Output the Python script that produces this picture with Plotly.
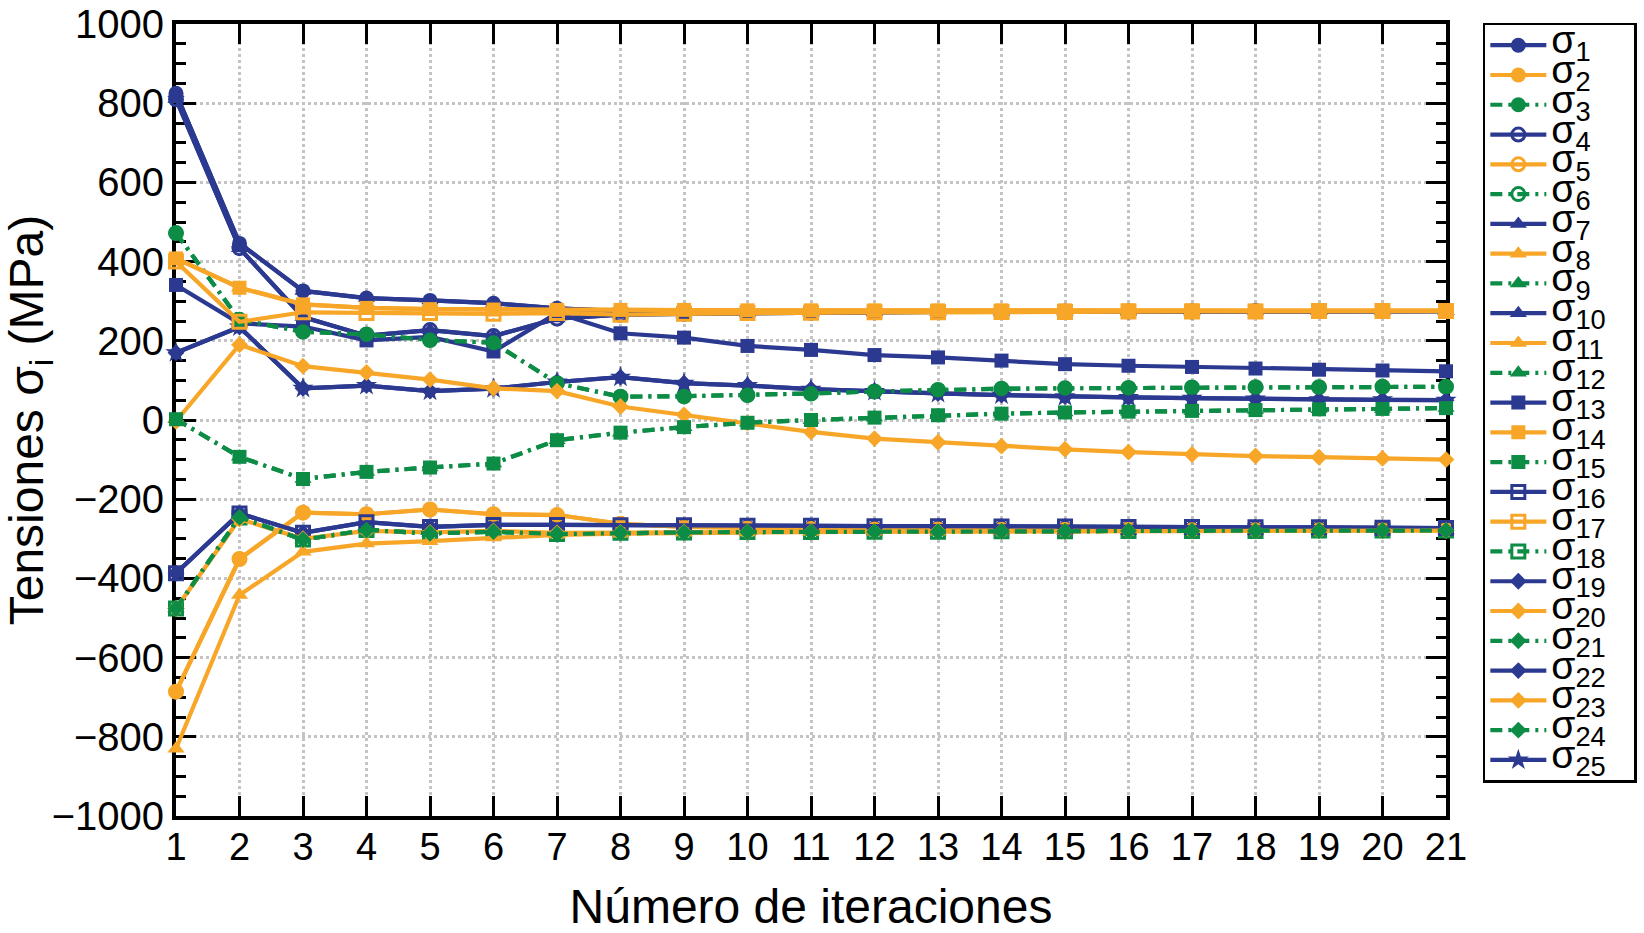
import plotly.graph_objects as go

iterations = list(range(1, 22))

# sigma values (MPa) per iteration
s1 = [825, 446, 326, 308, 302, 295, 282, 275, 273, 272, 272, 273, 273, 274, 274, 274, 275, 275, 275, 275, 275]
s2 = [-686, -351, -234, -238, -226, -238, -240, -262, -270, -273, -274, -275, -275, -276, -276, -276, -277, -277, -277, -277, -277]
s3 = [472, 253, 223, 216, 202, 195, 93, 59, 60, 63, 67, 72, 76, 79, 80, 81, 82, 83, 83, 84, 84]
s4 = [810, 434, 260, 213, 227, 212, 256, 266, 268, 270, 271, 272, 273, 273, 274, 274, 274, 275, 275, 275, 275]
s5 = [-686, -351, -234, -238, -226, -238, -240, -262, -270, -273, -274, -275, -275, -276, -276, -276, -277, -277, -277, -277, -277]
s6 = [472, 253, 223, 216, 202, 195, 93, 59, 60, 63, 67, 72, 76, 79, 80, 81, 82, 83, 83, 84, 84]
s7 = [810, 434, 260, 213, 227, 212, 256, 266, 268, 270, 271, 272, 273, 273, 274, 274, 274, 275, 275, 275, 275]
s8 = [-830, -442, -333, -312, -306, -297, -290, -287, -285, -284, -283, -282, -282, -281, -281, -280, -280, -280, -279, -279, -279]
s9 = [-476, -246, -302, -278, -286, -282, -288, -285, -284, -283, -283, -282, -282, -281, -281, -280, -280, -280, -279, -279, -279]
s10 = [825, 446, 326, 308, 302, 295, 282, 275, 273, 272, 272, 273, 273, 274, 274, 274, 275, 275, 275, 275, 275]
s11 = [408, 334, 292, 283, 280, 279, 278, 278, 278, 277, 277, 277, 277, 277, 277, 277, 277, 276, 276, 276, 276]
s12 = [2, -93, -149, -131, -120, -110, -51, -32, -18, -7, 0, 6, 12, 16, 19, 21, 23, 25, 27, 28, 30]
s13 = [341, 244, 236, 201, 210, 173, 270, 219, 208, 187, 177, 164, 158, 150, 141, 137, 134, 130, 127, 125, 123]
s14 = [408, 334, 292, 283, 280, 279, 278, 278, 278, 277, 277, 277, 277, 277, 277, 277, 277, 276, 276, 276, 276]
s15 = [2, -93, -149, -131, -120, -110, -51, -32, -18, -7, 0, 6, 12, 16, 19, 21, 23, 25, 27, 28, 30]
s16 = [-387, -236, -285, -258, -270, -265, -265, -266, -266, -267, -267, -268, -268, -269, -269, -270, -270, -271, -271, -272, -273]
s17 = [400, 248, 272, 270, 270, 268, 270, 266, 268, 270, 271, 272, 272, 273, 273, 274, 274, 274, 275, 275, 275]
s18 = [-476, -246, -302, -278, -286, -282, -288, -285, -284, -283, -283, -282, -282, -281, -281, -280, -280, -280, -279, -279, -279]
s19 = [170, 235, 80, 87, 73, 79, 96, 108, 93, 87, 78, 72, 67, 63, 59, 57, 55, 53, 51, 51, 50]
s20 = [-3, 190, 136, 120, 102, 80, 73, 34, 13, -8, -30, -47, -56, -66, -74, -81, -87, -91, -94, -97, -100]
s21 = [-476, -246, -302, -278, -286, -282, -288, -285, -284, -283, -283, -282, -282, -281, -281, -280, -280, -280, -279, -279, -279]
s22 = [-387, -236, -285, -258, -270, -265, -265, -266, -266, -267, -267, -268, -268, -269, -269, -270, -270, -271, -271, -272, -273]
s23 = [-476, -250, -300, -280, -284, -280, -285, -284, -283, -283, -282, -282, -281, -281, -281, -280, -280, -280, -279, -279, -279]
s24 = [-476, -246, -302, -278, -286, -282, -288, -285, -284, -283, -283, -282, -282, -281, -281, -280, -280, -280, -279, -279, -279]
s25 = [170, 235, 80, 87, 73, 79, 96, 108, 93, 87, 78, 72, 67, 63, 59, 57, 55, 53, 51, 51, 50]

series = [s1, s2, s3, s4, s5, s6, s7, s8, s9, s10, s11, s12, s13,
          s14, s15, s16, s17, s18, s19, s20, s21, s22, s23, s24, s25]

x_ticks = list(range(1, 22))
y_ticks = list(range(-1000, 1001, 200))

BLUE = "#2B3990"
ORANGE = "#F7A628"
GREEN = "#0C8C45"
colors = [BLUE, ORANGE, GREEN]

marker_groups = ["circle", "circle-open", "triangle-up", "triangle-up",
                 "square", "square-open", "diamond", "diamond", "star"]
marker_sizes = {"circle": 15, "circle-open": 13, "triangle-up": 15,
                "square": 14, "square-open": 13, "diamond": 13, "star": 16}

# drawing order: overlapped series first, clearly visible ones last
draw_order = [5, 6, 7, 9, 10, 11, 12, 18, 19, 22, 24,
              1, 4, 13, 25, 3, 17, 14, 20, 15, 2, 8, 16, 23, 21]

fig = go.Figure()
for idx in draw_order:
    i = idx - 1
    color = colors[i % 3]
    sym = marker_groups[i // 3]
    is_green = (i % 3 == 2)
    open_m = sym.endswith("-open")
    fig.add_trace(go.Scatter(
        x=iterations, y=series[i], mode="lines+markers",
        name=f"<span style='font-size:39px'>σ<sub>{idx}</sub></span>&nbsp;&nbsp;&nbsp;&nbsp;",
        legendrank=idx,
        cliponaxis=False,
        line=dict(color=color, width=4.2,
                  dash="12px,6px,3px,6px" if is_green else "solid"),
        marker=dict(symbol=sym, size=marker_sizes[sym], color=color,
                    line=dict(color=color, width=3 if open_m else 0)),
    ))

axis_font = dict(family="Liberation Sans, Arial, sans-serif", color="black")

fig.update_layout(
    width=1644, height=933,
    margin=dict(l=176, r=198, t=24, b=117, pad=0, autoexpand=False),
    paper_bgcolor="white", plot_bgcolor="white",
    font=dict(family="Liberation Sans, Arial, sans-serif", color="black"),
    showlegend=True,
    legend=dict(
        x=1.029, y=1.0015, xanchor="left", yanchor="top",
        bordercolor="black", borderwidth=2.5, bgcolor="white",
        font=dict(size=20.6, family="Liberation Sans, Arial, sans-serif", color="black"),
        itemwidth=56, traceorder="normal", maxheight=920,
    ),
    xaxis=dict(
        range=[1, 21], tickmode="array", tickvals=x_ticks,
        ticktext=[str(v) for v in x_ticks],
        ticks="inside", ticklen=20, tickwidth=2.5, tickcolor="black",
        showline=True, linecolor="black", linewidth=4, mirror="ticks",
        showgrid=True, gridcolor="#c4c4c4", gridwidth=2.5, griddash="dot",
        zeroline=False, layer="below traces",
        tickfont=dict(size=38, **axis_font), ticklabelstandoff=-6,
        title=dict(text="Número de iteraciones", font=dict(size=48, **axis_font), standoff=27),
    ),
    yaxis=dict(
        range=[-1000, 1000], tickmode="array", tickvals=y_ticks,
        ticks="inside", ticklen=20, tickwidth=3, tickcolor="black",
        minor=dict(dtick=50, ticks="inside", ticklen=10, tickwidth=3,
                   tickcolor="black", showgrid=False),
        showline=True, linecolor="black", linewidth=4, mirror="ticks",
        showgrid=True, gridcolor="#c4c4c4", gridwidth=2.5, griddash="dot",
        zeroline=False, layer="below traces",
        tickfont=dict(size=40, **axis_font), ticklabelstandoff=0,
        title=dict(text="Tensiones σ<sub>i</sub> (MPa)", font=dict(size=48, **axis_font), standoff=10),
    ),
)

fig.write_html("out.html", config={"displayModeBar": False},
               post_script="document.body.style.margin='0';document.body.style.overflow='hidden';")
